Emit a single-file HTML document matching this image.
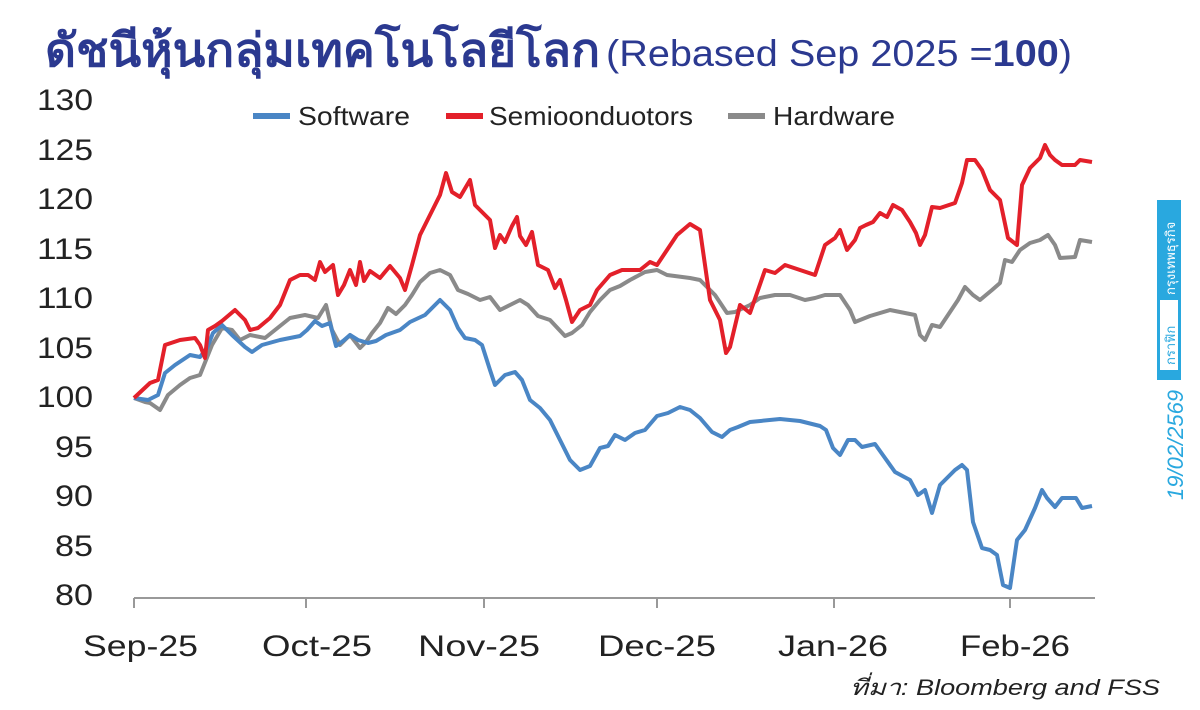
<!DOCTYPE html><html><head><meta charset="utf-8"><style>
body{margin:0;background:#fff;width:1200px;height:705px;overflow:hidden;font-family:"Liberation Sans","Noto Sans CJK SC",sans-serif}
</style></head><body>
<svg width="1200" height="705" xmlns="http://www.w3.org/2000/svg" font-family="Liberation Sans, Noto Sans CJK SC, sans-serif">
<text x="45" y="66" font-size="46" font-weight="bold" fill="#2b3990" font-family="Noto Sans CJK SC, Liberation Sans, sans-serif" textLength="555" lengthAdjust="spacingAndGlyphs">ดัชนีหุ้นกลุ่มเทคโนโลยีโลก</text>
<text x="606" y="66" font-size="37" fill="#2b3990" textLength="466" lengthAdjust="spacingAndGlyphs">(Rebased Sep 2025 =<tspan font-weight="bold">100</tspan>)</text>
<g font-size="30" fill="#222">
<text x="37" y="110" textLength="56" lengthAdjust="spacingAndGlyphs">130</text><text x="37" y="160" textLength="56" lengthAdjust="spacingAndGlyphs">125</text><text x="37" y="209" textLength="56" lengthAdjust="spacingAndGlyphs">120</text><text x="37" y="259" textLength="56" lengthAdjust="spacingAndGlyphs">115</text><text x="37" y="308" textLength="56" lengthAdjust="spacingAndGlyphs">110</text><text x="37" y="358" textLength="56" lengthAdjust="spacingAndGlyphs">105</text><text x="37" y="407" textLength="56" lengthAdjust="spacingAndGlyphs">100</text><text x="55" y="457" textLength="38" lengthAdjust="spacingAndGlyphs">95</text><text x="55" y="506" textLength="38" lengthAdjust="spacingAndGlyphs">90</text><text x="55" y="556" textLength="38" lengthAdjust="spacingAndGlyphs">85</text><text x="55" y="605" textLength="38" lengthAdjust="spacingAndGlyphs">80</text>
</g>
<g font-size="26" fill="#222">
<rect x="253" y="113" width="37" height="6" fill="#4a86c5"/><text x="298" y="125" textLength="112" lengthAdjust="spacingAndGlyphs">Software</text>
<rect x="446" y="113" width="37" height="6" fill="#e3202a"/><text x="489" y="125" textLength="204" lengthAdjust="spacingAndGlyphs">Semioonduotors</text>
<rect x="728" y="113" width="37" height="6" fill="#8a8a8a"/><text x="773" y="125" textLength="122" lengthAdjust="spacingAndGlyphs">Hardware</text>
</g>
<g stroke="#999" stroke-width="2"><line x1="134" y1="598" x2="1095" y2="598"/>
<line x1="134" y1="598" x2="134" y2="608"/><line x1="306" y1="598" x2="306" y2="608"/><line x1="484" y1="598" x2="484" y2="608"/><line x1="657" y1="598" x2="657" y2="608"/><line x1="834" y1="598" x2="834" y2="608"/><line x1="1010" y1="598" x2="1010" y2="608"/></g>
<g font-size="30" fill="#222">
<text x="83" y="656" textLength="115" lengthAdjust="spacingAndGlyphs">Sep-25</text><text x="262" y="656" textLength="110" lengthAdjust="spacingAndGlyphs">Oct-25</text><text x="418" y="656" textLength="122" lengthAdjust="spacingAndGlyphs">Nov-25</text><text x="598" y="656" textLength="118" lengthAdjust="spacingAndGlyphs">Dec-25</text><text x="778" y="656" textLength="110" lengthAdjust="spacingAndGlyphs">Jan-26</text><text x="960" y="656" textLength="110" lengthAdjust="spacingAndGlyphs">Feb-26</text></g>
<g fill="none" stroke-width="4" stroke-linejoin="round">
<polyline stroke="#8a8a8a" points="134,398 145,402 150,403 160,410 168,395 180,385 190,378 200,375 212,345 222,328 232,330 240,340 250,335 265,338 275,330 290,318 305,315 318,318 326,305 332,330 340,345 350,335 360,348 366,342 372,333 380,323 388,308 396,314 405,305 412,295 420,282 430,273 440,270 450,275 458,290 468,294 480,300 490,297 500,310 510,305 520,300 528,305 538,316 550,320 565,336 572,333 582,325 590,312 600,300 610,290 620,286 630,280 645,272 657,270 667,275 690,278 700,280 715,295 727,313 735,312 750,305 760,298 775,295 790,295 805,300 815,298 825,295 840,295 850,310 855,322 870,316 890,310 905,313 915,315 920,335 925,340 932,325 940,327 950,312 958,300 965,287 973,295 980,300 992,290 1000,283 1005,260 1012,262 1020,250 1030,243 1040,240 1048,235 1055,245 1060,258 1075,257 1080,240 1092,242"/>
<polyline stroke="#4a86c5" points="134,398 148,400 158,395 165,373 175,365 190,355 200,357 207,348 213,333 222,325 232,335 245,347 252,352 262,345 280,340 300,336 307,330 315,321 322,326 330,323 336,346 343,341 350,335 358,340 368,343 376,341 386,335 400,330 410,322 425,315 440,300 450,310 458,328 465,338 475,340 482,345 490,370 495,385 505,375 515,372 522,380 530,400 540,408 550,420 560,440 570,460 580,470 590,466 600,448 608,446 615,435 625,440 635,433 645,430 657,416 668,413 680,407 690,410 700,418 712,432 722,437 730,430 738,427 750,422 780,419 800,421 820,426 826,430 833,448 840,455 848,440 855,440 862,447 875,444 885,458 895,472 910,480 918,495 925,490 932,513 940,485 955,470 962,465 967,470 973,522 982,548 990,550 997,555 1003,585 1010,588 1017,540 1025,530 1035,508 1042,490 1047,498 1055,507 1062,498 1070,498 1076,498 1082,508 1092,506"/>
<polyline stroke="#e3202a" points="134,398 150,383 158,380 165,345 180,340 195,338 200,345 205,358 208,330 215,326 222,321 235,310 245,320 250,330 258,328 270,318 280,305 290,280 300,275 308,275 315,280 320,262 325,272 333,265 338,295 344,285 350,270 356,285 360,262 364,281 370,271 380,278 390,266 400,278 405,290 412,265 420,235 430,215 440,195 446,173 452,192 460,197 470,180 475,205 490,220 495,248 500,235 505,242 512,226 517,217 520,236 526,245 532,232 538,265 548,270 555,288 560,280 566,300 572,322 580,310 590,305 597,290 610,275 622,270 640,270 650,262 657,265 667,250 677,235 690,224 700,230 710,300 715,310 720,320 726,353 730,347 740,305 750,313 757,293 765,270 775,273 785,265 800,270 815,275 825,245 835,238 840,230 847,250 855,240 860,228 866,225 873,222 880,213 887,217 893,205 902,210 910,222 916,233 920,245 925,235 932,207 940,208 955,203 962,183 967,160 975,160 982,170 990,190 1000,200 1008,238 1017,245 1022,185 1030,168 1040,158 1045,145 1050,155 1055,160 1062,165 1075,165 1080,160 1092,162"/>
</g>
<rect x="1157" y="200" width="24" height="180" fill="#29a8df"/>
<rect x="1160" y="300" width="18" height="70" fill="#fff"/>
<text transform="translate(1175,365) rotate(-90)" font-size="13" fill="#29a8df" font-family="Noto Sans CJK SC, sans-serif">กราฟิก</text>
<text transform="translate(1175,295) rotate(-90)" font-size="13" fill="#fff" font-family="Noto Sans CJK SC, sans-serif">กรุงเทพธุรกิจ</text>
<text transform="translate(1183,500) rotate(-90)" font-size="22" font-style="italic" fill="#29a8df">19/02/2569</text>
<text x="850" y="695" font-size="22" font-style="italic" fill="#222" textLength="310" lengthAdjust="spacingAndGlyphs" font-family="Liberation Sans, Noto Sans CJK SC, sans-serif">ที่มา: Bloomberg and FSS</text>
</svg>
</body></html>
